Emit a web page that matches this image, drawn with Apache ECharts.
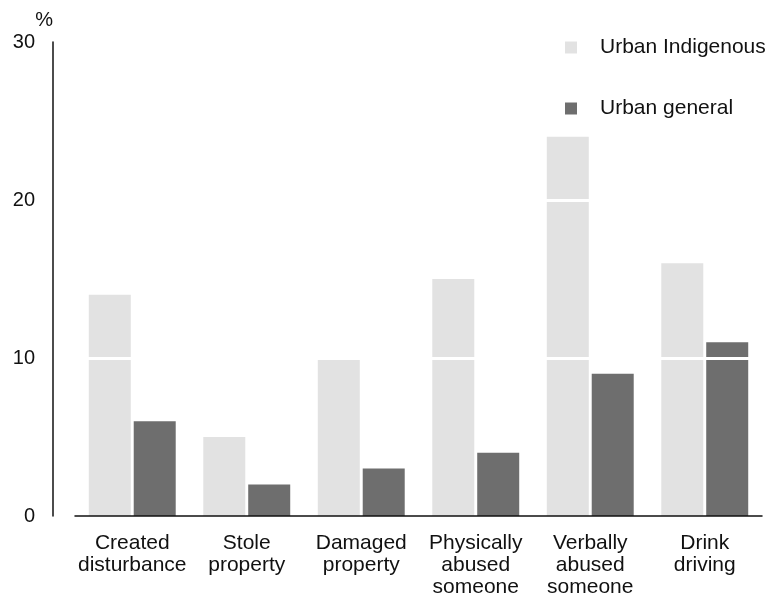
<!DOCTYPE html>
<html>
<head>
<meta charset="utf-8">
<script src="https://cdn.jsdelivr.net/npm/echarts@6/dist/echarts.min.js"></script>
<style>
  html, body { margin: 0; padding: 0; background: #fff; }
  #chart { width: 775px; height: 598px; }
</style>
</head>
<body>
<div id="chart"></div>
<script>
// categories and values
var categories = [
  'Created\ndisturbance',
  'Stole\nproperty',
  'Damaged\nproperty',
  'Physically\nabused\nsomeone',
  'Verbally\nabused\nsomeone',
  'Drink\ndriving'
]
var indigenous = [14, 5, 10, 15, 24, 16]
var general = [6, 2, 3, 4, 9, 11]
var yTicks = { min: 0, max: 30, interval: 10 }

var font = 'Liberation Sans, Arial, sans-serif'
var myChart = echarts.init(document.getElementById('chart'))

var options = {
  animation: false,
  textStyle: { fontFamily: font },
  grid: {
    left: 75,
    right: 13,
    top: 42,
    bottom: 81
  },
  legend: {
    orient: 'vertical',
    left: 560,
    top: 32,
    itemWidth: 12,
    itemHeight: 12,
    itemGap: 40,
    icon: 'rect',
    textStyle: {
      fontSize: 21,
      lineHeight: 20,
      color: '#111',
      padding: [0, 0, 0, 18]
    },
    data: ['Urban Indigenous', 'Urban general']
  },
  xAxis: {
    type: 'category',
    data: categories,
    z: 6,
    axisLine: {
      lineStyle: { color: '#111', width: 1.5 }
    },
    axisTick: { show: false },
    axisLabel: {
      interval: 0,
      margin: 16,
      fontSize: 21,
      lineHeight: 22,
      color: '#111'
    }
  },
  yAxis: {
    type: 'value',
    min: yTicks.min,
    max: yTicks.max,
    interval: yTicks.interval,
    offset: 22,
    z: 5, // white grid lines sit on top of the bars
    name: '%',
    nameLocation: 'end',
    nameGap: 12,
    nameTextStyle: {
      fontSize: 20,
      color: '#111',
      align: 'right'
    },
    axisLine: {
      show: true,
      lineStyle: { color: '#111', width: 1.5 }
    },
    axisTick: { show: false },
    axisLabel: {
      margin: 18,
      fontSize: 20,
      color: '#111'
    },
    splitLine: {
      show: true,
      showMinLine: false,
      showMaxLine: false,
      lineStyle: { color: '#fff', width: 3 }
    }
  },
  series: [
    {
      name: 'Urban Indigenous',
      type: 'bar',
      barWidth: 42,
      barGap: '7%',
      itemStyle: { color: '#e2e2e2' },
      data: indigenous
    },
    {
      name: 'Urban general',
      type: 'bar',
      barWidth: 42,
      barGap: '7%',
      itemStyle: { color: '#6e6e6e' },
      data: general
    }
  ]
}

myChart.setOption(options)
</script>
</body>
</html>
